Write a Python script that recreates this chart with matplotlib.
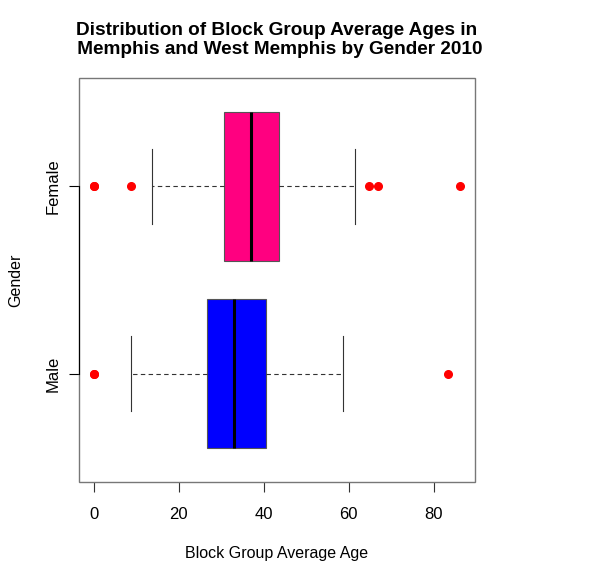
import matplotlib
matplotlib.use("Agg")
import matplotlib.pyplot as plt
from matplotlib.patches import Rectangle

plt.rcParams['font.family'] = ['Liberation Sans', 'DejaVu Sans']

groups = ["Male", "Female"]
box_colors = ["#0000ff", "#ff0080"]
whislo = [8.7, 13.8]
q1 = [26.7, 30.7]
med = [33.1, 37.1]
q3 = [40.6, 43.6]
whishi = [58.7, 61.5]
fliers = [[0.0, 0.0, 83.5], [0.0, 0.0, 8.7, 64.8, 66.9, 86.3]]

stats = []
for i in range(len(groups)):
    stats.append(dict(label=groups[i], whislo=whislo[i], q1=q1[i], med=med[i],
                      q3=q3[i], whishi=whishi[i], fliers=fliers[i]))

fig = plt.figure(figsize=(6.01, 5.81), dpi=100)
ax = fig.add_axes([79/601, 1 - 482/581, 396/601, 404/581])

bp = ax.bxp(stats, positions=[1, 2], orientation='horizontal', widths=0.8,
            patch_artist=True, showfliers=True,
            boxprops=dict(edgecolor='#555555', linewidth=0.8),
            medianprops=dict(color='black', linewidth=2.2, solid_capstyle='butt'),
            whiskerprops=dict(color='#333333', linewidth=0.8, linestyle=(0, (4, 3))),
            capprops=dict(color='#333333', linewidth=0.8),
            capwidths=0.4,
            flierprops=dict(marker='o', markerfacecolor='red', markeredgecolor='red',
                            markersize=5.5, linestyle='none'))
for patch, c in zip(bp['boxes'], box_colors):
    patch.set_facecolor(c)

ax.set_xlim(-3.45, 89.75)
ax.set_ylim(0.42, 2.58)
ax.set_xticks([0, 20, 40, 60, 80])
ax.set_yticks([1, 2])
ax.set_yticklabels(groups, rotation=90, va='center')

for s in ['top', 'right', 'bottom', 'left']:
    ax.spines[s].set_visible(False)
ax.add_patch(Rectangle((0, 0), 1, 1, transform=ax.transAxes, fill=False,
                       edgecolor='#777777', linewidth=1.0, clip_on=False, zorder=5))
ax.spines['left'].set_visible(True)
ax.spines['left'].set_bounds(1, 2)
ax.spines['left'].set_color('black')
ax.spines['left'].set_linewidth(0.8)
ax.spines['left'].set_zorder(6)

ax.tick_params(axis='x', length=7, width=0.8, color='#333333', labelsize=12, pad=11)
ax.tick_params(axis='y', length=7, width=0.8, color='black', labelsize=12, pad=6)

ax.set_xlabel("Block Group Average Age", fontsize=11.5, labelpad=17)
ax.set_ylabel("Gender", fontsize=11.5, labelpad=16)
fig.text(277/601, 1 - 40/581,
         "Distribution of Block Group Average Ages in\n Memphis and West Memphis by Gender 2010",
         ha='center', va='center', fontsize=13.7, fontweight='bold', linespacing=1.2)

fig.savefig("out.png", dpi=100)
